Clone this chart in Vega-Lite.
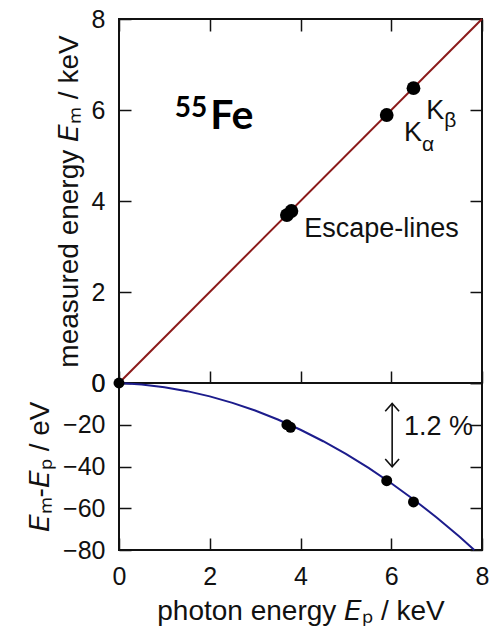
{
  "$schema": "https://vega.github.io/schema/vega-lite/v6.json",
  "background": "white",
  "padding": {"left": 25, "top": 6, "right": 0, "bottom": 0},
  "spacing": 0,
  "bounds": "flush",
  "datasets": {
    "diag": [{"x": 0, "y": 0}, {"x": 8, "y": 8}],
    "topPts": [
      {"x": 3.70, "y": 3.69, "line": "Escape"},
      {"x": 3.80, "y": 3.78, "line": "Escape"},
      {"x": 5.90, "y": 5.89, "line": "K-alpha"},
      {"x": 6.49, "y": 6.48, "line": "K-beta"}
    ],
    "labels": [
      {"x": 4.08, "y": 3.2, "text": "Escape-lines"},
      {"x": 6.28, "y": 5.31, "text": "K"},
      {"x": 6.77, "y": 5.81, "text": "K"},
      {"x": 6.28, "y": -24.8, "text": "1.2 %"}
    ],
    "subs": [
      {"x": 6.68, "y": 5.10, "text": "α"},
      {"x": 7.17, "y": 5.62, "text": "β"}
    ],
    "curve": [
      {"x": 0, "y": 0}, {"x": 0.5, "y": -0.7}, {"x": 1, "y": -2.0}, {"x": 1.5, "y": -3.9},
      {"x": 2, "y": -6.4}, {"x": 2.5, "y": -9.5}, {"x": 3, "y": -13.2}, {"x": 3.5, "y": -17.5},
      {"x": 4, "y": -22.4}, {"x": 4.5, "y": -27.9}, {"x": 5, "y": -34.0}, {"x": 5.5, "y": -40.7},
      {"x": 6, "y": -48.0}, {"x": 6.5, "y": -55.9}, {"x": 7, "y": -64.4}, {"x": 7.5, "y": -73.5},
      {"x": 7.83, "y": -80}
    ],
    "botPts": [
      {"x": 0, "y": 0, "line": "origin"},
      {"x": 3.70, "y": -20.0, "line": "Escape"},
      {"x": 3.78, "y": -21.2, "line": "Escape"},
      {"x": 5.90, "y": -46.8, "line": "K-alpha"},
      {"x": 6.49, "y": -57.0, "line": "K-beta"}
    ],
    "arrow": [{"x": 6.02, "y": -9.8, "y2": -40.1}]
  },
  "vconcat": [
    {
      "width": 363,
      "height": 364,
      "layer": [
        {
          "data": {"name": "diag"},
          "mark": {"type": "line", "color": "#8b1a1a", "strokeWidth": 2},
          "encoding": {
            "x": {"field": "x", "type": "quantitative", "scale": {"domain": [0, 8], "nice": false},
                  "axis": {"orient": "bottom", "labels": false, "title": null, "values": [0, 2, 4, 6, 8]}},
            "y": {"field": "y", "type": "quantitative", "scale": {"domain": [0, 8], "nice": false},
                  "axis": {"orient": "left", "values": [0, 2, 4, 6, 8], "title": "measured energy 𝘌ₘ / keV"}}
          }
        },
        {
          "data": {"name": "topPts"},
          "mark": {"type": "point", "filled": true, "color": "black", "opacity": 1, "size": 190},
          "encoding": {
            "x": {"field": "x", "type": "quantitative",
                  "axis": {"orient": "top", "labels": false, "title": null, "values": [0, 2, 4, 6, 8]}},
            "y": {"field": "y", "type": "quantitative",
                  "axis": {"orient": "right", "labels": false, "title": null, "values": [0, 2, 4, 6, 8]}}
          }
        },
        {
          "data": {"name": "labels"},
          "transform": [{"filter": "datum.y > 0"}],
          "mark": {"type": "text", "align": "left", "baseline": "alphabetic", "fontSize": 27, "font": "Liberation Sans", "color": "#111"},
          "encoding": {
            "x": {"field": "x", "type": "quantitative", "axis": null},
            "y": {"field": "y", "type": "quantitative", "axis": null},
            "text": {"field": "text"}
          }
        },
        {
          "data": {"name": "subs"},
          "mark": {"type": "text", "align": "left", "baseline": "alphabetic", "fontSize": 21, "font": "Liberation Sans", "color": "#111"},
          "encoding": {
            "x": {"field": "x", "type": "quantitative", "axis": null},
            "y": {"field": "y", "type": "quantitative", "axis": null},
            "text": {"field": "text"}
          }
        },
        {
          "data": {"values": [{"x": 1.23, "y": 5.85, "text": "55"}]},
          "mark": {"type": "text", "align": "left", "baseline": "alphabetic", "fontSize": 28, "font": "Lato", "fontWeight": "bold", "color": "black"},
          "encoding": {
            "x": {"field": "x", "type": "quantitative", "axis": null},
            "y": {"field": "y", "type": "quantitative", "axis": null},
            "text": {"field": "text"}
          }
        },
        {
          "data": {"values": [{"x": 2.01, "y": 5.59, "text": "Fe"}]},
          "mark": {"type": "text", "align": "left", "baseline": "alphabetic", "fontSize": 41, "font": "Lato", "fontWeight": "bold", "color": "black"},
          "encoding": {
            "x": {"field": "x", "type": "quantitative", "axis": null},
            "y": {"field": "y", "type": "quantitative", "axis": null},
            "text": {"field": "text"}
          }
        }
      ],
      "resolve": {"axis": {"x": "independent", "y": "independent"}}
    },
    {
      "width": 363,
      "height": 167,
      "layer": [
        {
          "data": {"name": "curve"},
          "mark": {"type": "line", "color": "#1c1c8c", "strokeWidth": 2},
          "encoding": {
            "x": {"field": "x", "type": "quantitative", "scale": {"domain": [0, 8], "nice": false},
                  "axis": {"orient": "bottom", "values": [0, 2, 4, 6, 8], "title": "photon energy 𝘌ₚ / keV"}},
            "y": {"field": "y", "type": "quantitative", "scale": {"domain": [-80, 0], "nice": false},
                  "axis": {"orient": "left", "values": [0, -20, -40, -60, -80], "title": "𝘌ₘ-𝘌ₚ / eV"}}
          }
        },
        {
          "data": {"name": "botPts"},
          "mark": {"type": "point", "filled": true, "color": "black", "opacity": 1, "size": 120},
          "encoding": {
            "x": {"field": "x", "type": "quantitative", "axis": null},
            "y": {"field": "y", "type": "quantitative",
                  "axis": {"orient": "right", "labels": false, "title": null, "values": [0, -20, -40, -60, -80]}}
          }
        },
        {
          "data": {"name": "arrow"},
          "mark": {"type": "rule", "color": "#111", "strokeWidth": 1.6},
          "encoding": {
            "x": {"field": "x", "type": "quantitative", "axis": null},
            "y": {"field": "y", "type": "quantitative", "axis": null},
            "y2": {"field": "y2"}
          }
        },
        {
          "data": {"name": "arrow"},
          "mark": {"type": "point", "filled": false, "color": "#111", "strokeWidth": 1.6, "opacity": 1, "size": 300, "shape": "M-0.8,0.9L0,0L0.8,0.9"},
          "encoding": {
            "x": {"field": "x", "type": "quantitative", "axis": null},
            "y": {"field": "y", "type": "quantitative", "axis": null}
          }
        },
        {
          "data": {"name": "arrow"},
          "mark": {"type": "point", "filled": false, "color": "#111", "strokeWidth": 1.6, "opacity": 1, "size": 300, "shape": "M-0.8,-0.9L0,0L0.8,-0.9"},
          "encoding": {
            "x": {"field": "x", "type": "quantitative", "axis": null},
            "y": {"field": "y2", "type": "quantitative", "axis": null}
          }
        },
        {
          "data": {"name": "labels"},
          "transform": [{"filter": "datum.y < 0"}],
          "mark": {"type": "text", "align": "left", "baseline": "alphabetic", "fontSize": 27, "font": "Liberation Sans", "color": "#111"},
          "encoding": {
            "x": {"field": "x", "type": "quantitative", "axis": null},
            "y": {"field": "y", "type": "quantitative", "axis": null},
            "text": {"field": "text"}
          }
        }
      ],
      "resolve": {"axis": {"x": "independent", "y": "independent"}}
    }
  ],
  "config": {
    "view": {"stroke": "#111", "strokeWidth": 2},
    "concat": {"spacing": 0},
    "axis": {
      "domain": false,
      "grid": false,
      "ticks": true,
      "tickSize": -12,
      "tickWidth": 1.5,
      "tickColor": "#111",
      "labelFont": "Liberation Sans",
      "labelFontSize": 25,
      "labelColor": "#111",
      "labelPadding": 26,
      "labelFlush": false,
      "labelOverlap": false,
      "titleFont": "Liberation Sans",
      "titleFontSize": 28,
      "titleFontWeight": "normal",
      "titleColor": "#111",
      "titlePadding": 8
    }
  }
}
